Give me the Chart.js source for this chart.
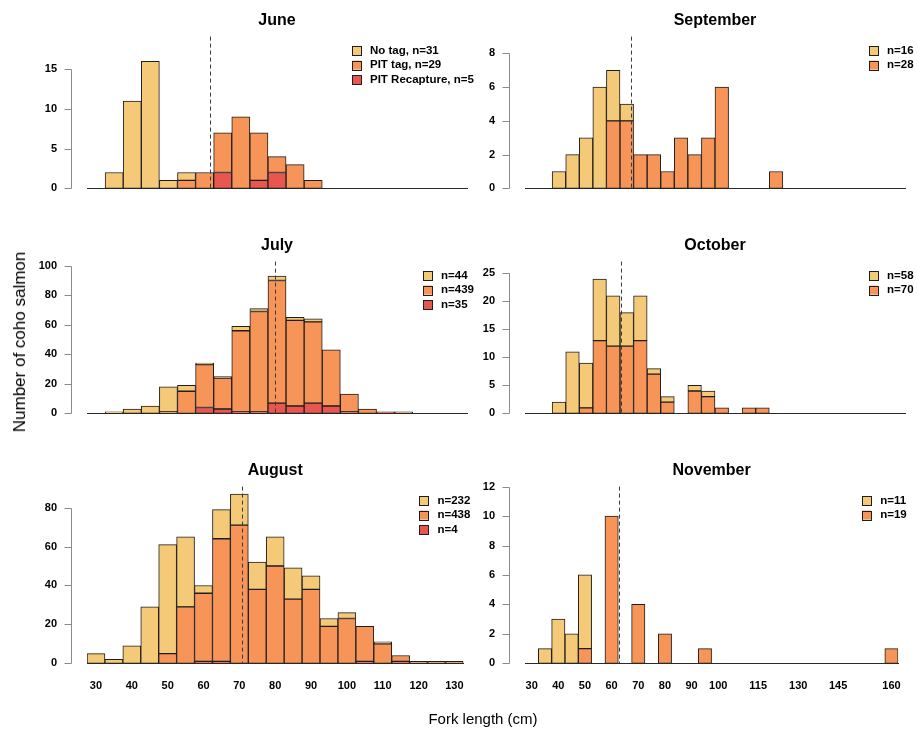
<!DOCTYPE html>
<html>
<head>
<meta charset="utf-8">
<script src="https://cdn.jsdelivr.net/npm/chart.js@4.4.1/dist/chart.umd.min.js"></script>
<style>
  body { margin: 0; background: #fff; }
  #wrap { position: relative; width: 917px; height: 731px; font-family: "Liberation Sans", Arial, sans-serif; color: #000; }
  #wrap canvas { position: absolute; }
  .ylab { position: absolute; left: 20px; top: 342px; transform: translate(-50%, -50%) rotate(-90deg); font-size: 17px; white-space: nowrap; }
  .xlab { position: absolute; left: 483px; top: 718px; transform: translate(-50%, -50%); font-size: 15px; white-space: nowrap; }
</style>
</head>
<body>
<div id="wrap">
  <canvas id="june" width="480" height="225" style="left:0;top:0"></canvas>
  <canvas id="july" width="480" height="225" style="left:0;top:225px"></canvas>
  <canvas id="august" width="480" height="281" style="left:0;top:450px"></canvas>
  <canvas id="september" width="437" height="225" style="left:480px;top:0"></canvas>
  <canvas id="october" width="437" height="225" style="left:480px;top:225px"></canvas>
  <canvas id="november" width="437" height="281" style="left:480px;top:450px"></canvas>
  <div class="ylab">Number of coho salmon</div>
  <div class="xlab">Fork length (cm)</div>
</div>
<script>
// bin centres (cm, 5 cm bins) and fish counts per group, stacked recapture / PIT / no tag
const juneBins  = [35, 40, 45, 50, 55, 60, 65, 70, 75, 80, 85, 90];
const juneNoTag = [2, 11, 16, 1, 1, 0, 0, 0, 0, 0, 0, 0];
const junePit   = [0, 0, 0, 0, 1, 2, 5, 9, 6, 2, 3, 1];
const juneRecap = [0, 0, 0, 0, 0, 0, 2, 0, 1, 2, 0, 0];

const julyBins  = [35, 40, 45, 50, 55, 60, 65, 70, 75, 80, 85, 90, 95, 100, 105, 110, 115];
const julyNoTag = [1, 3, 5, 17, 4, 1, 1, 3, 2, 3, 2, 2, 0, 0, 0, 0, 0];
const julyPit   = [0, 0, 0, 1, 15, 29, 21, 55, 68, 83, 58, 55, 38, 12, 3, 0, 1];
const julyRecap = [0, 0, 0, 0, 0, 4, 3, 1, 1, 7, 5, 7, 5, 1, 0, 1, 0];

const augBins  = [30, 35, 40, 45, 50, 55, 60, 65, 70, 75, 80, 85, 90, 95, 100, 105, 110, 115, 120, 125, 130];
const augNoTag = [5, 2, 9, 29, 56, 36, 4, 15, 16, 14, 15, 16, 7, 4, 3, 0, 1, 0, 0, 0, 0];
const augPit   = [0, 0, 0, 0, 5, 29, 35, 63, 71, 38, 50, 33, 38, 19, 23, 18, 10, 3, 1, 1, 1];
const augRecap = [0, 0, 0, 0, 0, 0, 1, 1, 0, 0, 0, 0, 0, 0, 0, 1, 0, 1, 0, 0, 0];

const sepBins  = [40, 45, 50, 55, 60, 65, 70, 75, 80, 85, 90, 95, 100, 105, 110, 115, 120];
const sepNoTag = [1, 2, 3, 6, 3, 1, 0, 0, 0, 0, 0, 0, 0, 0, 0, 0, 0];
const sepPit   = [0, 0, 0, 0, 4, 4, 2, 2, 1, 3, 2, 3, 6, 0, 0, 0, 1];

const octBins  = [40, 45, 50, 55, 60, 65, 70, 75, 80, 85, 90, 95, 100, 105, 110, 115];
const octNoTag = [2, 11, 8, 11, 9, 6, 8, 1, 1, 0, 1, 1, 0, 0, 0, 0];
const octPit   = [0, 0, 1, 13, 12, 12, 13, 7, 2, 0, 4, 3, 1, 0, 1, 1];

const novBins  = [35, 40, 45, 50, 60, 70, 80, 95, 165];
const novNoTag = [1, 3, 2, 5, 0, 0, 0, 0, 0];
const novPit   = [0, 0, 0, 1, 10, 4, 2, 1, 1];

// mean fork length per month (dashed line)
const meanLength = { june: 61.4, july: 79.5, august: 70.8, september: 66.7, october: 62.7, november: 62.7 };

// axis ticks
const leftXTicks  = [30, 40, 50, 60, 70, 80, 90, 100, 110, 120, 130];
const leftXText   = ['30', '40', '50', '60', '70', '80', '90', '100', '110', '120', '130'];
const rightXTicks = [30, 40, 50, 60, 70, 80, 90, 100, 115, 130, 145, 165];
const rightXText  = ['30', '40', '50', '60', '70', '80', '90', '100', '115', '130', '145', '160'];

const colNoTag = '#F4C978';
const colPit   = '#F79457';
const colRecap = '#E8574F';

Chart.defaults.font.family = '"Liberation Sans", Arial, sans-serif';
Chart.defaults.color = '#000';

function makePanel(id, title, bins, groups, legendText, mean, yMax, yTicks, side, bottom) {
  const xTicks = side === 'left' ? leftXTicks : rightXTicks;
  const xText = side === 'left' ? leftXText : rightXText;
  const colours = [colRecap, colPit, colNoTag];
  const datasets = [];
  // groups come as [noTag, pit, recap]; stack from the bottom up
  groups.slice().reverse().forEach((vals, k) => {
    const c = groups.length === 3 ? colours[k] : colours[k + 1];
    datasets.push({
      data: bins.map((b, i) => ({ x: b, y: vals[i] })),
      backgroundColor: c,
      borderColor: '#1e1e1e',
      borderWidth: 1,
      borderSkipped: false,
      barPercentage: 1,
      categoryPercentage: 1
    });
  });
  const legendCols = [colNoTag, colPit, colRecap];

  const extras = {
    id: 'extras',
    afterDatasetsDraw(chart) {
      const { ctx, chartArea, scales: { x, y } } = chart;
      ctx.save();
      // y axis, set off left of the bars
      const ax = Math.round(chartArea.left - 16) + 0.5;
      ctx.strokeStyle = '#8a8a8a';
      ctx.lineWidth = 1;
      ctx.beginPath();
      ctx.moveTo(ax, Math.round(y.getPixelForValue(0)) + 0.5);
      ctx.lineTo(ax, Math.round(y.getPixelForValue(yTicks[yTicks.length - 1])) + 0.5);
      yTicks.forEach(v => {
        const py = Math.round(y.getPixelForValue(v)) + 0.5;
        ctx.moveTo(ax - 7, py);
        ctx.lineTo(ax, py);
      });
      ctx.stroke();

      // mean length
      const mx = Math.round(x.getPixelForValue(mean)) + 0.5;
      ctx.strokeStyle = '#3a3a3a';
      ctx.setLineDash([4, 3]);
      ctx.beginPath();
      ctx.moveTo(mx, chartArea.top);
      ctx.lineTo(mx, chartArea.bottom);
      ctx.stroke();
      ctx.setLineDash([]);

      // legend
      let lx;
      if (side === 'left') lx = legendText[0].length > 6 ? chartArea.right - 115 : chartArea.right - 44;
      else lx = chartArea.right - 36;
      ctx.font = 'bold 11.5px "Liberation Sans", Arial, sans-serif';
      ctx.textBaseline = 'middle';
      ctx.textAlign = 'left';
      legendText.forEach((t, i) => {
        const cy = chartArea.top + 14 + i * 14.5;
        ctx.fillStyle = legendCols[i];
        ctx.fillRect(lx, cy - 4.5, 9, 9);
        ctx.strokeStyle = '#1e1e1e';
        ctx.strokeRect(Math.round(lx) + 0.5, Math.round(cy - 4.5) + 0.5, 9, 9);
        ctx.fillStyle = '#000';
        ctx.fillText(t, lx + 18, cy);
      });
      ctx.restore();
    }
  };

  const canvas = document.getElementById(id);
  new Chart(canvas, {
    type: 'bar',
    data: { datasets },
    options: {
      responsive: false,
      animation: false,
      events: [],
      layout: { padding: { left: 0, right: side === 'left' ? 13 : 12, top: 0, bottom: 0 } },
      plugins: {
        legend: { display: false },
        tooltip: { enabled: false },
        title: {
          display: true,
          text: title,
          fullSize: false,
          font: { size: 16, weight: 'bold' },
          padding: { top: 6, bottom: 6.1 },
          color: '#000'
        }
      },
      scales: {
        x: {
          type: 'linear',
          stacked: true,
          offset: false,
          min: 27.5,
          max: side === 'left' ? 132.5 : 167.5,
          grid: { display: false, drawTicks: false },
          border: { display: true, color: '#2a2a2a', width: 1 },
          ticks: {
            display: bottom,
            autoSkip: false,
            maxRotation: 0,
            padding: 16,
            font: { size: 11, weight: 'bold' },
            callback: v => xText[xTicks.indexOf(v)]
          },
          afterBuildTicks: s => { s.ticks = xTicks.map(v => ({ value: v })); },
          afterFit: s => { s.height = bottom ? 67.7 : 11.7; }
        },
        y: {
          stacked: true,
          min: 0,
          max: yMax,
          grid: { display: false, drawTicks: false },
          border: { display: false },
          ticks: { padding: 30, font: { size: 11, weight: 'bold' } },
          afterBuildTicks: s => { s.ticks = yTicks.map(v => ({ value: v })); },
          afterFit: s => { s.width = side === 'left' ? 87 : 45; }
        }
      }
    },
    plugins: [extras]
  });
}

makePanel('june', 'June', juneBins, [juneNoTag, junePit, juneRecap],
  ['No tag, n=31', 'PIT tag, n=29', 'PIT Recapture, n=5'], meanLength.june, 19.1, [0, 5, 10, 15], 'left', false);
makePanel('july', 'July', julyBins, [julyNoTag, julyPit, julyRecap],
  ['n=44', 'n=439', 'n=35'], meanLength.july, 102.8, [0, 20, 40, 60, 80, 100], 'left', false);
makePanel('august', 'August', augBins, [augNoTag, augPit, augRecap],
  ['n=232', 'n=438', 'n=4'], meanLength.august, 90.8, [0, 20, 40, 60, 80], 'left', true);
makePanel('september', 'September', sepBins, [sepNoTag, sepPit],
  ['n=16', 'n=28'], meanLength.september, 9.0, [0, 2, 4, 6, 8], 'right', false);
makePanel('october', 'October', octBins, [octNoTag, octPit],
  ['n=58', 'n=70'], meanLength.october, 27.1, [0, 5, 10, 15, 20, 25], 'right', false);
makePanel('november', 'November', novBins, [novNoTag, novPit],
  ['n=11', 'n=19'], meanLength.november, 12.0, [0, 2, 4, 6, 8, 10, 12], 'right', true);
</script>
</body>
</html>
